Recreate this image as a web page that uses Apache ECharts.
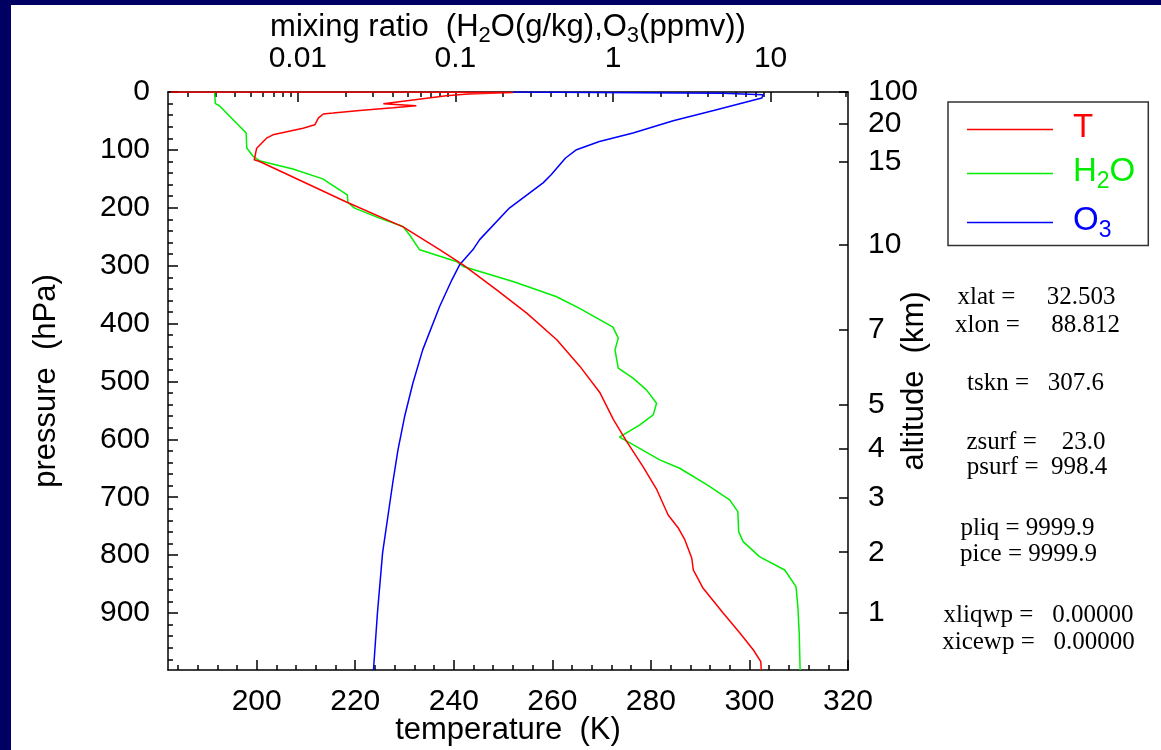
<!DOCTYPE html>
<html>
<head>
<meta charset="utf-8">
<title>Atmospheric profile</title>
<script src="https://cdn.jsdelivr.net/npm/echarts@6/dist/echarts.min.js"></script>
<style>
  html, body { margin: 0; padding: 0; background: #ffffff; }
  #chart { width: 1161px; height: 750px; }
</style>
</head>
<body>
<div id="chart"></div>
<script>
// Temperature profile: pressure (hPa) and temperature (K)
const tPressure = [0.005, 0.05, 0.2, 0.7, 3.5, 6.4, 20.3, 23.8, 27.2, 31.9, 36.4, 38, 45, 56.7, 62.5, 74, 79.8, 97, 117, 120,
  190, 233, 272.6, 298.5, 341.7, 382, 428, 474, 520, 566, 604, 647, 687, 730.6, 753.6, 773.8, 805.4, 825.6, 857.3,
  900.5, 935, 963.9, 984, 998.4];
const tValues = [182.5, 200, 230, 252, 242.9, 238.5, 225.7, 232.4, 227.7, 220.9, 215.5, 213.5, 212.5, 211.8, 209.4, 203.3, 202, 200, 199.5, 200.6,
  218.2, 229.7, 237.2, 241.9, 248.7, 254.8, 260.9, 265.6, 269.7, 272.4, 275.1, 278.4, 281.2, 283.5, 285.6, 286.9, 288.3, 288.6, 290.6,
  294.7, 298.1, 300.8, 302.3, 302.4];

// Water vapour mixing ratio (g/kg)
const h2oPressure = [0.005, 20.2, 23.7, 70.9, 96.8, 111, 118.7, 133, 150, 169, 177.5, 190.8, 200.5, 217.8, 232.3, 246.6, 272.6,
  292.8, 301.4, 327.3, 353.3, 373.3, 406.2, 425.2, 445.4, 477, 494.3, 514.5, 537.5, 557.7, 575, 596.3, 603.9, 635.5, 649.9,
  678.7, 704.6, 724.9, 759.4, 776.7, 802.6, 825.6, 854.5, 889, 935, 998.4];
const h2oValues = [0.00296, 0.0030, 0.00318, 0.0047, 0.00474, 0.0052, 0.0057, 0.0093, 0.0144, 0.0184, 0.0206, 0.0208, 0.0229, 0.0330, 0.0465, 0.0511, 0.0593,
  0.1013, 0.112, 0.232, 0.435, 0.61, 1.00, 1.08, 1.03, 1.08, 1.34, 1.63, 1.89, 1.80, 1.48, 1.10, 1.24, 1.98, 2.65,
  3.96, 5.5, 6.2, 6.27, 6.7, 8.5, 12.3, 14.5, 14.9, 15.2, 15.4];

// Ozone mixing ratio (ppmv)
const o3Pressure = [0.005, 2.0, 4.7, 6.4, 10.4, 31.8, 49.6, 70.9, 85.4, 99.7, 114, 143, 157, 200.5, 255, 272.6, 298.5, 324.4,
  370.5, 445.4, 503, 560.6, 618, 675.8, 796, 900, 998.4];
const o3Values = [0.232, 5.0, 8.96, 9.2, 8.8, 4.35, 2.41, 1.34, 0.82, 0.587, 0.50, 0.405, 0.36, 0.22, 0.1425, 0.129, 0.1063, 0.095,
  0.0794, 0.062, 0.0537, 0.0476, 0.0432, 0.040, 0.0345, 0.032, 0.0302];

// Axis ticks and labels
const tempTicks = [200, 220, 240, 260, 280, 300, 320];
const tempMinorTicks = [184, 188, 192, 196, 204, 208, 212, 216, 224, 228, 232, 236, 244, 248, 252, 256,
  264, 268, 272, 276, 284, 288, 292, 296, 304, 308, 312, 316];
const mixTicks = [0.01, 0.1, 1, 10];
const mixTickLabels = ['0.01', '0.1', '1', '10'];
const mixMinorTicks = [0.002, 0.003, 0.004, 0.005, 0.006, 0.007, 0.008, 0.009,
  0.02, 0.03, 0.04, 0.05, 0.06, 0.07, 0.08, 0.09,
  0.2, 0.3, 0.4, 0.5, 0.6, 0.7, 0.8, 0.9,
  2, 3, 4, 5, 6, 7, 8, 9, 20, 30];
const pressureTicks = [0, 100, 200, 300, 400, 500, 600, 700, 800, 900];
const pressureMinorTicks = [20, 40, 60, 80, 120, 140, 160, 180, 220, 240, 260, 280, 320, 340, 360, 380,
  420, 440, 460, 480, 520, 540, 560, 580, 620, 640, 660, 680, 720, 740, 760, 780,
  820, 840, 860, 880, 920, 940, 960, 980];
const altitudeKm = ['100', '20', '15', '10', '7', '5', '4', '3', '2', '1'];
const altitudePressure = [0.0003, 54.7, 121.1, 264.4, 410.6, 540.2, 616.4, 701.1, 795.0, 898.8];

// Surface and cloud parameters printed beside the plot
const infoLines = ['xlat =     32.503', 'xlon =     88.812', 'tskn =   307.6', 'zsurf =    23.0', 'psurf =  998.4',
  'pliq = 9999.9', 'pice = 9999.9', 'xliqwp =   0.00000', 'xicewp =   0.00000'];

const SANS = '"Liberation Sans", Arial, Helvetica, sans-serif';
const SERIF = '"Liberation Serif", "Times New Roman", serif';
const PMAX = 998.4;

const frameLine = { show: true, onZero: false, lineStyle: { color: '#000', width: 1.5 } };
const tickStyle = { color: '#000', width: 1.5 };
const labelBase = { color: '#000', fontSize: 30, fontFamily: SANS };
const nameStyle = { color: '#000', fontSize: 31, fontFamily: SANS };

function nearestIndex(list, v, useLog) {
  let best = 0, bestD = Infinity;
  list.forEach((x, i) => {
    const d = useLog ? Math.abs(Math.log10(x) - Math.log10(v)) : Math.abs(x - v);
    if (d < bestD) { bestD = d; best = i; }
  });
  return best;
}

function pairs(xs, ps) { return ps.map((p, i) => [xs[i], p]); }

const chart = echarts.init(document.getElementById('chart'), null, { renderer: 'canvas' });

const infoPos = [[1036.5, 297], [1037.5, 325], [1035.5, 383], [1036, 442], [1037, 467],
  [1027.5, 528], [1028.5, 554], [1038.5, 615], [1038.5, 642]];

const graphics = [
  { type: 'rect', left: 0, top: 0, shape: { width: 11, height: 750 }, style: { fill: '#000062' }, z: 100 },
  { type: 'rect', left: 0, top: 0, shape: { width: 1161, height: 5 }, style: { fill: '#000062' }, z: 100 }
];
infoLines.forEach((t, i) => {
  graphics.push({
    type: 'text', x: infoPos[i][0], y: infoPos[i][1], z: 50,
    style: {
      text: t, fill: '#000', font: '25px ' + SERIF,
      align: 'center', verticalAlign: 'middle', textAlign: 'center', textVerticalAlign: 'middle'
    }
  });
});

const legendRich = {
  r: { color: '#ff0000', fontSize: 33, fontFamily: SANS, lineHeight: 36, verticalAlign: 'top' },
  g: { color: '#00ee00', fontSize: 33, fontFamily: SANS, lineHeight: 36, verticalAlign: 'top' },
  gs: { color: '#00ee00', fontSize: 23, fontFamily: SANS, lineHeight: 24, padding: [17, 0, 0, 0] },
  b: { color: '#0000ff', fontSize: 33, fontFamily: SANS, lineHeight: 36, verticalAlign: 'top' },
  bs: { color: '#0000ff', fontSize: 23, fontFamily: SANS, lineHeight: 24, padding: [17, 0, 0, 0] }
};

const option = {
  animation: false,
  backgroundColor: '#ffffff',
  grid: { left: 168, top: 92, right: 313, bottom: 80, containLabel: false, outerBoundsMode: 'none' },
  legend: {
    orient: 'vertical', left: 948, top: 102,
    padding: [9.5, 13, 3, 19],
    itemWidth: 86, itemHeight: 1.5, itemGap: 9,
    icon: 'rect',
    backgroundColor: '#ffffff', borderColor: '#333', borderWidth: 1.5, borderRadius: 0,
    selectedMode: false,
    textStyle: { fontSize: 33, fontFamily: SANS, padding: [0, 0, 0, 15], rich: legendRich },
    formatter: function (name) {
      if (name === 'T') return '{r|T}';
      if (name === 'H2O') return '{g|H}{gs|2}{g|O}';
      return '{b|O}{bs|3}';
    },
    data: ['T', 'H2O', 'O3']
  },
  xAxis: [
    {
      type: 'value', position: 'bottom', min: 182, max: 320,
      axisLine: frameLine,
      axisTick: { show: true, inside: true, length: 10, customValues: tempTicks, lineStyle: tickStyle },
      axisLabel: Object.assign({ customValues: tempTicks, margin: 17 }, labelBase),
      splitLine: { show: false },
      name: 'temperature  (K)', nameLocation: 'middle', nameGap: 45, nameMoveOverlap: false,
      nameTextStyle: nameStyle
    },
    {
      type: 'log', logBase: 10, position: 'top', min: 0.0015, max: 31,
      axisLine: frameLine,
      axisTick: { show: true, inside: true, length: 10, customValues: mixTicks, lineStyle: tickStyle },
      axisLabel: Object.assign({
        customValues: mixTicks, margin: 18,
        formatter: v => mixTickLabels[nearestIndex(mixTicks, v, true)]
      }, labelBase),
      splitLine: { show: false },
      minorTick: { show: false },
      name: '{n|mixing ratio  (H}{s|2}{n|O(g/kg),O}{s|3}{n|(ppmv))}',
      nameLocation: 'middle', nameGap: 46, nameMoveOverlap: false,
      nameTextStyle: {
        rich: {
          n: { color: '#000', fontSize: 31, fontFamily: SANS, lineHeight: 34, verticalAlign: 'top' },
          s: { color: '#000', fontSize: 22, fontFamily: SANS, lineHeight: 24, padding: [14, 0, 0, 0] }
        }
      }
    },
    {
      type: 'value', position: 'bottom', min: 182, max: 320,
      axisLine: { show: false, onZero: false },
      axisTick: { show: true, inside: true, length: 5, customValues: tempMinorTicks, lineStyle: tickStyle },
      axisLabel: { show: false },
      splitLine: { show: false }
    },
    {
      type: 'log', logBase: 10, position: 'top', min: 0.0015, max: 31,
      axisLine: { show: false, onZero: false },
      axisTick: { show: true, inside: true, length: 5, customValues: mixMinorTicks, lineStyle: tickStyle },
      axisLabel: { show: false },
      splitLine: { show: false }
    }
  ],
  yAxis: [
    {
      type: 'value', position: 'left', inverse: true, min: 0, max: PMAX,
      axisLine: frameLine,
      axisTick: { show: true, inside: true, length: 10, customValues: pressureTicks, lineStyle: tickStyle },
      axisLabel: Object.assign({ customValues: pressureTicks, margin: 18 }, labelBase),
      splitLine: { show: false },
      name: 'pressure  (hPa)', nameLocation: 'middle', nameGap: 106, nameRotate: 90, nameMoveOverlap: false,
      nameTextStyle: nameStyle
    },
    {
      type: 'value', position: 'right', inverse: true, min: 0, max: PMAX,
      axisLine: frameLine,
      axisTick: { show: true, inside: true, length: 9, customValues: altitudePressure, lineStyle: tickStyle },
      axisLabel: Object.assign({
        customValues: altitudePressure, margin: 20,
        formatter: v => altitudeKm[nearestIndex(altitudePressure, v, false)]
      }, labelBase),
      splitLine: { show: false },
      name: 'altitude  (km)', nameLocation: 'middle', nameGap: 51, nameRotate: 90, nameMoveOverlap: false,
      nameTextStyle: nameStyle
    },
    {
      type: 'value', position: 'left', inverse: true, min: 0, max: PMAX,
      axisLine: { show: false, onZero: false },
      axisTick: { show: true, inside: true, length: 5, customValues: pressureMinorTicks, lineStyle: tickStyle },
      axisLabel: { show: false },
      splitLine: { show: false }
    }
  ],
  series: [
    {
      name: 'T', type: 'line', xAxisIndex: 0, yAxisIndex: 0,
      data: pairs(tValues, tPressure), symbol: 'none', color: '#ff0000',
      lineStyle: { color: '#ff0000', width: 1.5 }, z: 3
    },
    {
      name: 'H2O', type: 'line', xAxisIndex: 1, yAxisIndex: 0,
      data: pairs(h2oValues, h2oPressure), symbol: 'none', color: '#00ee00',
      lineStyle: { color: '#00ee00', width: 1.5 }, z: 2
    },
    {
      name: 'O3', type: 'line', xAxisIndex: 1, yAxisIndex: 0,
      data: pairs(o3Values, o3Pressure), symbol: 'none', color: '#0000ff',
      lineStyle: { color: '#0000ff', width: 1.5 }, z: 2
    }
  ],
  graphic: graphics
};

chart.setOption(option);
</script>
</body>
</html>
